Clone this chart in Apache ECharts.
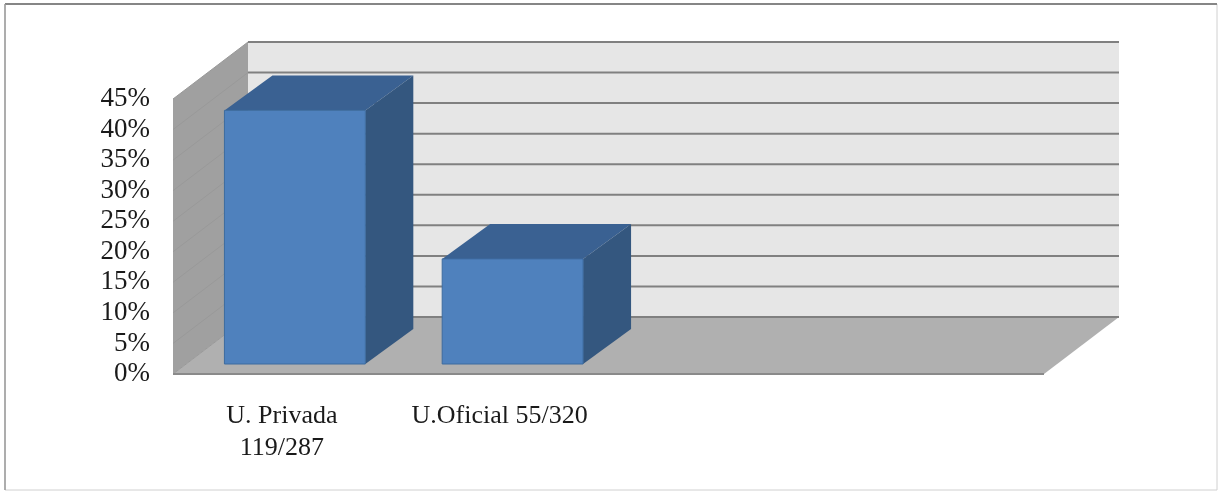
<!DOCTYPE html>
<html>
<head>
<meta charset="utf-8">
<style>html,body{margin:0;padding:0;background:#fff}#c{width:1218px;height:491px}</style>
<script src="https://cdn.jsdelivr.net/npm/echarts@6/dist/echarts.min.js"></script>
</head>
<body>
<div id="c"></div>
<script>
const categories = ['U. Privada\n119/287', 'U.Oficial 55/320', '', ''];
const percentValues = [41.5, 17.2];
const yTicks = [0, 5, 10, 15, 20, 25, 30, 35, 40, 45];

const roomDepth = [75, -57];
const barDepth = [48, -35];
const barShift = [13, -10];

function poly(points, color, extra) {
  return Object.assign({ type: 'polygon', shape: { points }, style: { fill: color } }, extra || {});
}
function seg(x1, y1, x2, y2, color, w) {
  return { type: 'line', shape: { x1, y1, x2, y2 }, style: { stroke: color, lineWidth: w || 1.5, fill: null } };
}

function renderRoom(params) {
  const c = params.coordSys;
  const [dx, dy] = roomDepth;
  const L = c.x, R = c.x + c.width, T = c.y, B = c.y + c.height;
  return { type: 'group', children: [
    poly([[L + dx, T + dy], [R + dx, T + dy], [R + dx, B + dy], [L + dx, B + dy]], '#e6e6e6'),
    poly([[L, T], [L + dx, T + dy], [L + dx, B + dy], [L, B]], '#a0a0a0'),
    poly([[L, B], [L + dx, B + dy], [R + dx, B + dy], [R, B]], '#b0b0b0')
  ]};
}

function renderTick(params, api) {
  const c = params.coordSys;
  const [dx, dy] = roomDepth;
  const y = api.coord([0, api.value(1)])[1];
  const L = c.x, R = c.x + c.width;
  const kids = [
    seg(L, y, L + dx, y + dy, '#999999', 1),
    seg(L + dx, y + dy, R + dx, y + dy, '#808080', 2)
  ];
  if (api.value(1) === 0) kids.push(seg(L, y, R, y, '#8a8a8a', 2));
  return { type: 'group', children: kids };
}

function renderBar(params, api) {
  const top = api.coord([api.value(0), api.value(1)]);
  const base = api.coord([api.value(0), 0]);
  const w = api.size([1, 0])[0] * 0.647;
  const [dx, dy] = barDepth;
  const x0 = top[0] + barShift[0] - w / 2, x1 = x0 + w;
  const yT = top[1] + barShift[1], yB = base[1] + barShift[1];
  return { type: 'group', children: [
    poly([[x0, yT], [x0 + dx, yT + dy], [x1 + dx, yT + dy], [x1, yT]], '#3a6192'),
    poly([[x1, yT], [x1 + dx, yT + dy], [x1 + dx, yB + dy], [x1, yB]], '#34577f'),
    { type: 'rect', shape: { x: x0, y: yT, width: w, height: yB - yT },
      style: { fill: '#4f81bd', stroke: '#3d6b9f', lineWidth: 1 } }
  ]};
}

const chart = echarts.init(document.getElementById('c'), null, { renderer: 'canvas' });
chart.setOption({
  animation: false,
  backgroundColor: '#ffffff',
  textStyle: { fontFamily: '"Liberation Serif"' },
  grid: { left: 173, top: 99, width: 871, height: 275, containLabel: false },
  xAxis: {
    type: 'category', data: categories,
    axisLine: { show: false }, axisTick: { show: false }, splitLine: { show: false },
    axisLabel: { interval: 0, margin: 26, fontSize: 26, lineHeight: 32, color: '#1a1a1a',
      fontFamily: '"Liberation Serif"', hideOverlap: false }
  },
  yAxis: {
    type: 'value', min: 0, max: 45, interval: 5,
    axisLine: { show: false }, axisTick: { show: false }, splitLine: { show: false },
    axisLabel: { formatter: '{value}%', margin: 23, fontSize: 27, color: '#1a1a1a',
      fontFamily: '"Liberation Serif"' }
  },
  graphic: [
    { type: 'rect', silent: true, z: -1, shape: { x: 5, y: 4, width: 1212, height: 486 },
      style: { fill: '#fff', stroke: '#d0d0d0', lineWidth: 1 } },
    { type: 'line', silent: true, z: -1, shape: { x1: 5, y1: 4, x2: 1217, y2: 4 }, style: { stroke: '#868686', lineWidth: 2 } },
    { type: 'line', silent: true, z: -1, shape: { x1: 5, y1: 4, x2: 5, y2: 490 }, style: { stroke: '#9a9a9a', lineWidth: 1.5 } }
  ],
  series: [
    { type: 'custom', name: 'room', z: 1, data: [[0, 0]], renderItem: renderRoom, silent: true },
    { type: 'custom', name: 'ticks', z: 2, data: yTicks.map(t => [0, t]), renderItem: renderTick, silent: true },
    { type: 'custom', name: 'bars', z: 3, data: percentValues.map((v, i) => [i, v]), renderItem: renderBar,
      encode: { x: 0, y: 1 } }
  ]
});
</script>
</body>
</html>
